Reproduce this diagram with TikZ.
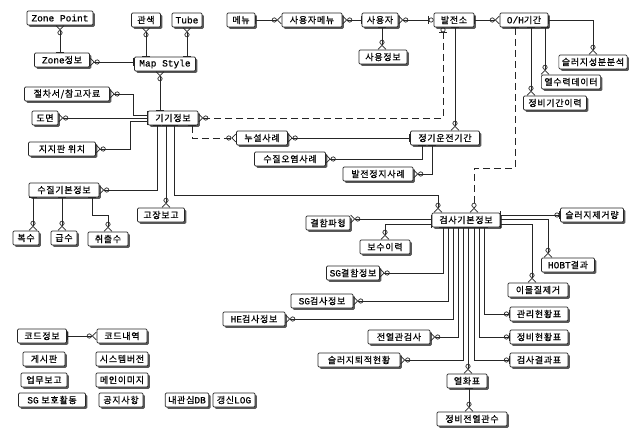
\documentclass[tikz,border=0pt]{standalone}
\usepackage{fontspec}
\setmainfont{Noto Sans CJK KR}[FakeBold=0.6,LetterSpace=8]
\setmonofont{Liberation Mono}[FakeBold=0.5]
\usetikzlibrary{arrows.meta,shadows}
\newcommand\mylat[1]{{\fontsize{9.5}{10}\ttfamily #1}}
\tikzset{
  one/.tip={Bar[width=8pt,line width=0.7pt]},
  zmany/.tip={Circle[open,length=5pt,width=5pt,line width=0.7pt] Straight Barb[reversed,length=4pt,width=8pt,line width=0.7pt]},
  zone/.tip={Circle[open,length=5pt,width=5pt,line width=0.7pt] Bar[width=8pt,line width=0.7pt]},
  zoner/.tip={Bar[width=8pt,line width=0.7pt] Circle[open,length=5pt,width=5pt,line width=0.7pt]},
}
\begin{document}
\begin{tikzpicture}[x=1pt,y=-1pt,
  box/.style={draw=black!85, line width=0.7pt, rounded corners=1.2pt, fill=white,
    inner xsep=3pt, inner ysep=0pt, minimum height=14pt,
    font=\fontsize{9}{10}\selectfont,
    drop shadow={shadow xshift=1.8pt, shadow yshift=-1.8pt, fill=black!65, opacity=1}},
  ln/.style={draw=black!85, line width=0.65pt},
  dsh/.style={ln, dash pattern=on 7pt off 4pt},
]
\fill[white] (0,0) rectangle (641,436);
\useasboundingbox (0,0) rectangle (641,436);

% ---- nodes: top-left
\node[box, minimum width=66pt] (zpoint) at (60,18) {\mylat{Zone Point}};
\node[box, minimum width=55pt] (zinfo) at (62,60) {\mylat{Zone}정보};
\node[box, minimum width=29pt] (gwan) at (146,20) {관색};
\node[box, minimum width=30pt] (tube) at (187,20) {\mylat{Tube}};
\node[box, minimum width=61pt] (mapst) at (165,64) {\mylat{Map Style}};
\node[box, minimum width=85pt] (jeol) at (67,94) {절차서/참고자료};
\node[box, minimum width=26pt] (domyeon) at (45,118) {도면};
\node[box, minimum width=67pt] (jiji) at (62,149) {지지판 위치};
\node[box, minimum width=50pt] (gigi) at (173,118) {기기정보};
\node[box, minimum width=70pt] (sujil) at (64,190) {수질기본정보};
\node[box, minimum width=26pt] (boksu) at (26,238) {복수};
\node[box, minimum width=26pt] (geupsu) at (64,238) {급수};
\node[box, minimum width=40pt] (chwi) at (108,239) {취출수};
\node[box, minimum width=47pt] (gojang) at (161,215) {고장보고};

% ---- top middle / right
\node[box, minimum width=28pt] (menu) at (241,20) {메뉴};
\node[box, minimum width=60pt] (umenu) at (312,20) {사용자메뉴};
\node[box, minimum width=36pt] (user) at (380,20) {사용자};
\node[box, minimum width=48pt] (uinfo) at (383,57) {사용정보};
\node[box, minimum width=40pt] (balj) at (454,20) {발전소};
\node[box, minimum width=48pt] (oh) at (524,20) {\mylat{O/H}기간};
\node[box, minimum width=68pt] (sludge) at (593,62) {슬러지성분분석};
\node[box, minimum width=58pt] (yeolsu) at (571,82) {열수력데이터};
\node[box, minimum width=63pt] (jbgi) at (555,103) {정비기간이력};
\node[box, minimum width=69pt] (jeonggi) at (445,138) {정기운전기간};
\node[box, minimum width=51pt] (nusul) at (262,138) {누설사례};
\node[box, minimum width=71pt] (sujilo) at (290,159) {수질오염사례};
\node[box, minimum width=70pt] (baljj) at (378,174) {발전정지사례};

% ---- inspection cluster
\node[box, minimum width=68pt] (geomsa) at (466,220) {검사기본정보};
\node[box, minimum width=63pt] (sjg) at (592,215) {슬러지제거량};
\node[box, minimum width=44pt] (gyeol) at (328,223) {결함파형};
\node[box, minimum width=50pt] (bosu) at (385,247) {보수이력};
\node[box, minimum width=53pt] (sgg) at (353,273) {\mylat{SG}결함정보};
\node[box, minimum width=62pt] (sgi) at (322,301) {\mylat{SG}검사정보};
\node[box, minimum width=62pt] (he) at (254,319) {\mylat{HE}검사정보};
\node[box, minimum width=62pt] (jyg) at (399,337) {전열관검사};
\node[box, minimum width=82pt] (sjt) at (359,360) {슬러지퇴적현황};
\node[box, minimum width=40pt] (yh) at (467,381) {열화표};
\node[box, minimum width=70pt] (jjy) at (472,419) {정비전열관수};
\node[box, minimum width=53pt] (hobt) at (568,265) {\mylat{HOBT}결과};
\node[box, minimum width=60pt] (imul) at (538,290) {이물질제거};
\node[box, minimum width=58pt] (gmh) at (539,314) {관리현황표};
\node[box, minimum width=58pt] (jbh) at (539,337) {정비현황표};
\node[box, minimum width=58pt] (gres) at (539,360) {검사결과표};

% ---- bottom-left
\node[box, minimum width=49pt] (code) at (42,336) {코드정보};
\node[box, minimum width=50pt] (codel) at (122,336) {코드내역};
\node[box, minimum width=42pt] (board) at (44,359) {게시판};
\node[box, minimum width=52pt] (sysver) at (122,359) {시스템버전};
\node[box, minimum width=46pt] (work) at (44,380) {업무보고};
\node[box, minimum width=52pt] (mainimg) at (122,380) {메인이미지};
\node[box, minimum width=67pt] (sgact) at (52,400) {\mylat{SG} 보호활동};
\node[box, minimum width=44pt] (notice) at (121,400) {공지사항};
\node[box, minimum width=43pt] (mydb) at (187,400) {내관심\mylat{DB}};
\node[box, minimum width=42pt] (log) at (234,400) {갱신\mylat{LOG}};

% ---- connectors: top-left
\draw[ln,{one}-{zmany}] (zinfo.north -| zpoint) -- (zpoint.south);
\draw[ln,{one}-{zmany}] (mapst.west |- 0,62) -- (zinfo.east |- 0,62);
\draw[ln,{one}-{zmany}] (mapst.north -| gwan) -- (gwan.south);
\draw[ln,{one}-{zmany}] (mapst.north -| tube) -- (tube.south);
\draw[ln,{one}-{zmany}] (gigi.north -| 160,0) -- (mapst.south -| 160,0);
\draw[ln,{one}-{zmany}] (gigi.west |- 0,115) -- (133,115) |- (jeol.east);
\draw[ln,{one}-{zmany}] (gigi.west |- 0,118) -- (domyeon.east);
\draw[ln,{one}-{zmany}] (gigi.west |- 0,121) -- (130,121) |- (jiji.east);
\draw[ln,{one}-{zmany}] (gigi.south -| 157,0) |- (sujil.east);
\draw[ln,{one}-{zmany}] (gigi.south -| 166,0) -- (gojang.north -| 166,0);
\draw[ln,{one}-{zmany}] (gigi.south -| 174,0) |- (438,195) -- (geomsa.north -| 438,0);
\draw[dsh,{one}-{zmany}] (gigi.south -| 192,0) |- (nusul.west);
\draw[dsh,{zoner}-{zmany}] (balj.south -| 443,0) |- (gigi.east);

% water quality
\draw[ln,{one}-{zmany}] (sujil.south -| 33,0) -- (boksu.north -| 33,0);
\draw[ln,{one}-{zmany}] (sujil.south -| 62,0) -- (geupsu.north -| 62,0);
\draw[ln,{one}-{zmany}] (sujil.south -| 92,0) |- (108,215) -- (chwi.north);

% top row
\draw[ln,{one}-{zmany}] (menu.east) -- (umenu.west);
\draw[ln,{one}-{zmany}] (user.west) -- (umenu.east);
\draw[ln,{one}-{zmany}] (user.south -| 382,0) -- (uinfo.north -| 382,0);
\draw[ln,{zoner}-{zmany}] (balj.west) -- (user.east);
\draw[ln,{one}-{zmany}] (balj.east) -- (oh.west);
\draw[ln,{one}-{zmany}] (oh.east) -| (sludge.north);
\draw[ln,{one}-{zmany}] (oh.south -| 545,0) -- (yeolsu.north -| 545,0);
\draw[ln,{one}-{zmany}] (oh.south -| 531,0) -- (jbgi.north -| 531,0);
\draw[dsh,{one}-{zmany}] (oh.south -| 515,0) -- (515,168) -| (geomsa.north -| 474,0);

% plant operation
\draw[ln,{one}-{zmany}] (balj.south -| 455,0) -- (jeonggi.north -| 455,0);
\draw[ln,{one}-{zmany}] (jeonggi.west) -- (nusul.east);
\draw[ln,{one}-{zmany}] (jeonggi.south -| 422,0) |- (sujilo.east);
\draw[ln,{one}-{zmany}] (jeonggi.south -| 432,0) |- (baljj.east);

% inspection
\draw[ln,{one}-{zmany}] (geomsa.west |- 0,219) -- (gyeol.east |- 0,219);
\draw[ln,{one}-{zmany}] (geomsa.west |- 0,224) -| (bosu.north);
\draw[ln,{one}-{zone}] (geomsa.east |- 0,215) -- (sjg.west);
\draw[ln,{one}-{zmany}] (geomsa.east |- 0,219) -| (hobt.north -| 548,0);
\draw[ln,{one}-{zmany}] (geomsa.east |- 0,224) -| (imul.north -| 532,0);
\draw[ln,{one}-{zmany}] (geomsa.south -| 443,0) |- (sgg.east);
\draw[ln,{one}-{zmany}] (geomsa.south -| 448,0) |- (sgi.east);
\draw[ln,{one}-{zmany}] (geomsa.south -| 453,0) |- (he.east);
\draw[ln,{one}-{zmany}] (geomsa.south -| 458,0) |- (jyg.east);
\draw[ln,{one}-{zmany}] (geomsa.south -| 463,0) |- (sjt.east);
\draw[ln,{one}-{zmany}] (geomsa.south -| 468,0) -- (yh.north -| 468,0);
\draw[ln,{one}-{zone}] (geomsa.south -| 474,0) |- (gres.west);
\draw[ln,{one}-{zone}] (geomsa.south -| 479,0) |- (jbh.west);
\draw[ln,{one}-{zone}] (geomsa.south -| 484,0) |- (gmh.west);
\draw[ln,{one}-{zmany}] (yh.south -| 469,0) -- (jjy.north -| 469,0);

% code
\draw[ln,{one}-{zmany}] (code.east) -- (codel.west);
\end{tikzpicture}
\end{document}
